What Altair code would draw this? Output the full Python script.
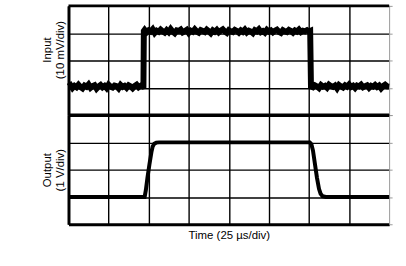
import altair as alt
import pandas as pd

in_low1 = [5.05, 5.10, 4.99, 5.07, 5.02, 5.11, 5.03, 4.98, 5.08, 5.04, 5.12, 5.00, 5.06, 5.09, 4.97, 5.05, 5.10, 5.02, 5.07, 4.99,
           5.11, 5.04, 5.01, 5.08, 5.06, 4.98, 5.10, 5.03, 5.07, 5.00, 5.09, 5.05, 4.98, 5.06, 5.11, 5.02, 5.07, 5.04]
in_high = [7.12, 7.03, 7.10, 7.06, 7.14, 7.01, 7.09, 7.05, 7.13, 7.07, 7.02, 7.11, 7.04, 7.15, 7.06, 7.00, 7.10, 7.08, 7.13, 7.03,
           7.07, 7.12, 7.01, 7.09, 7.05, 7.14, 7.06, 7.02, 7.11, 7.08, 7.04, 7.13, 7.07, 7.00, 7.10, 7.05, 7.12, 7.03, 7.09, 7.14,
           7.06, 7.01, 7.11, 7.07, 7.04, 7.12, 7.08, 7.02, 7.10, 7.05, 7.13, 7.03, 7.09, 7.06, 7.00, 7.11, 7.07, 7.14, 7.04, 7.08,
           7.02, 7.12, 7.06, 7.10, 7.03, 7.09, 7.13, 7.05, 7.01, 7.11, 7.07, 7.04, 7.12, 7.08, 7.02, 7.10, 7.06, 7.13, 7.04, 7.09,
           7.07, 7.11, 7.06]
in_low2 = [5.02, 5.09, 5.05, 4.99, 5.10, 5.04, 5.07, 5.00, 5.11, 5.06, 5.03, 5.08, 4.98, 5.10, 5.05, 5.01, 5.09, 5.04, 5.12, 5.03,
           5.07, 4.99, 5.08, 5.05, 5.11, 5.02, 5.06, 5.09, 5.00, 5.07, 5.04, 5.10, 5.03, 5.08, 4.98, 5.06, 5.11, 5.05, 5.04]
in_edges_t = [1.87, 1.88, 6.03, 6.05]
in_edges_v = [5.05, 7.08, 7.08, 5.05]

# Output trace
out_t = [0.0, 1.90, 1.93, 1.97, 2.02, 2.07, 2.10, 2.14, 2.19, 2.26, 6.02, 6.06, 6.10, 6.15, 6.20, 6.25, 6.29, 6.34, 6.42, 8.0]
out_v = [1.0, 1.0, 1.25, 1.7, 2.2, 2.65, 2.85, 2.95, 2.99, 3.0, 3.0, 2.93, 2.7, 2.2, 1.7, 1.3, 1.12, 1.03, 1.0, 1.0]

x_grid = [0, 1, 2, 3, 4, 5, 6, 7]
top_ticks = [4, 5, 6, 7, 8]
bot_ticks = [0, 1, 2, 3, 4]

FONT = "Liberation Sans"
W, H = 323, 110

in_t = ([round(0.05 * i, 2) for i in range(len(in_low1))]
        + in_edges_t[:2]
        + [round(1.90 + 0.05 * i, 2) for i in range(len(in_high))]
        + in_edges_t[2:]
        + [round(6.10 + 0.05 * i, 2) for i in range(len(in_low2))])
in_v = in_low1 + in_edges_v[:2] + in_high + in_edges_v[2:] + in_low2


def panel(df, ydom, yticks, ytitle, title_y, xtitle, sw):
    xaxis = dict(values=x_grid, grid=True, gridColor="black", gridWidth=1.4,
                 labels=False, ticks=False, domain=True, domainColor="black", domainWidth=3)
    if xtitle:
        xaxis.update(title=xtitle, titleFont=FONT, titleFontSize=11.5, titleFontWeight="normal",
                     titleColor="black", titlePadding=5)
    else:
        xaxis.update(title="")
    x = alt.X("t:Q", scale=alt.Scale(domain=[0, 8], nice=False), axis=alt.Axis(**xaxis))
    y = alt.Y("v:Q", scale=alt.Scale(domain=ydom, nice=False),
              axis=alt.Axis(values=yticks, grid=True, gridColor="black", gridWidth=1.4,
                            labels=False, ticks=False, domain=True, domainColor="black",
                            domainWidth=3, title=ytitle, titleFont=FONT, titleFontSize=11.5,
                            titleFontWeight="normal", titleColor="black", titlePadding=3,
                            titleY=title_y, titleLineHeight=13))
    line = alt.Chart(df).mark_line(color="black", strokeWidth=sw, strokeJoin="miter").encode(x=x, y=y)
    border = alt.Chart(pd.DataFrame({"v": [ydom[1]]})).mark_rule(color="black", strokeWidth=3).encode(
        y=alt.Y("v:Q", scale=alt.Scale(domain=ydom, nice=False),
                axis=alt.Axis(orient="right", values=yticks, labels=False, ticks=True, tickSize=3,
                              tickColor="#999999", tickWidth=1, domain=True, domainColor="#999999",
                              domainWidth=1, grid=False, title=None))
    )
    return alt.layer(line, border).resolve_axis(y="independent").properties(width=W, height=H)


df_in = pd.DataFrame({"t": in_t, "v": in_v})
df_out = pd.DataFrame({"t": out_t, "v": out_v})

top = panel(df_in, [4, 8], top_ticks, ["Input", "(10 mV/div)"], 44, None, 6)
bot = panel(df_out, [0, 4], bot_ticks, ["Output", "(1 V/div)"], 55, "Time (25 µs/div)", 4)

chart = alt.vconcat(top, bot, spacing=0, bounds="flush").properties(
    padding={"left": 42, "top": 3, "right": 5, "bottom": 5},
    background="white",
).configure_view(strokeWidth=0)

chart.save("out.html", embed_options={"renderer": "svg", "actions": False})
